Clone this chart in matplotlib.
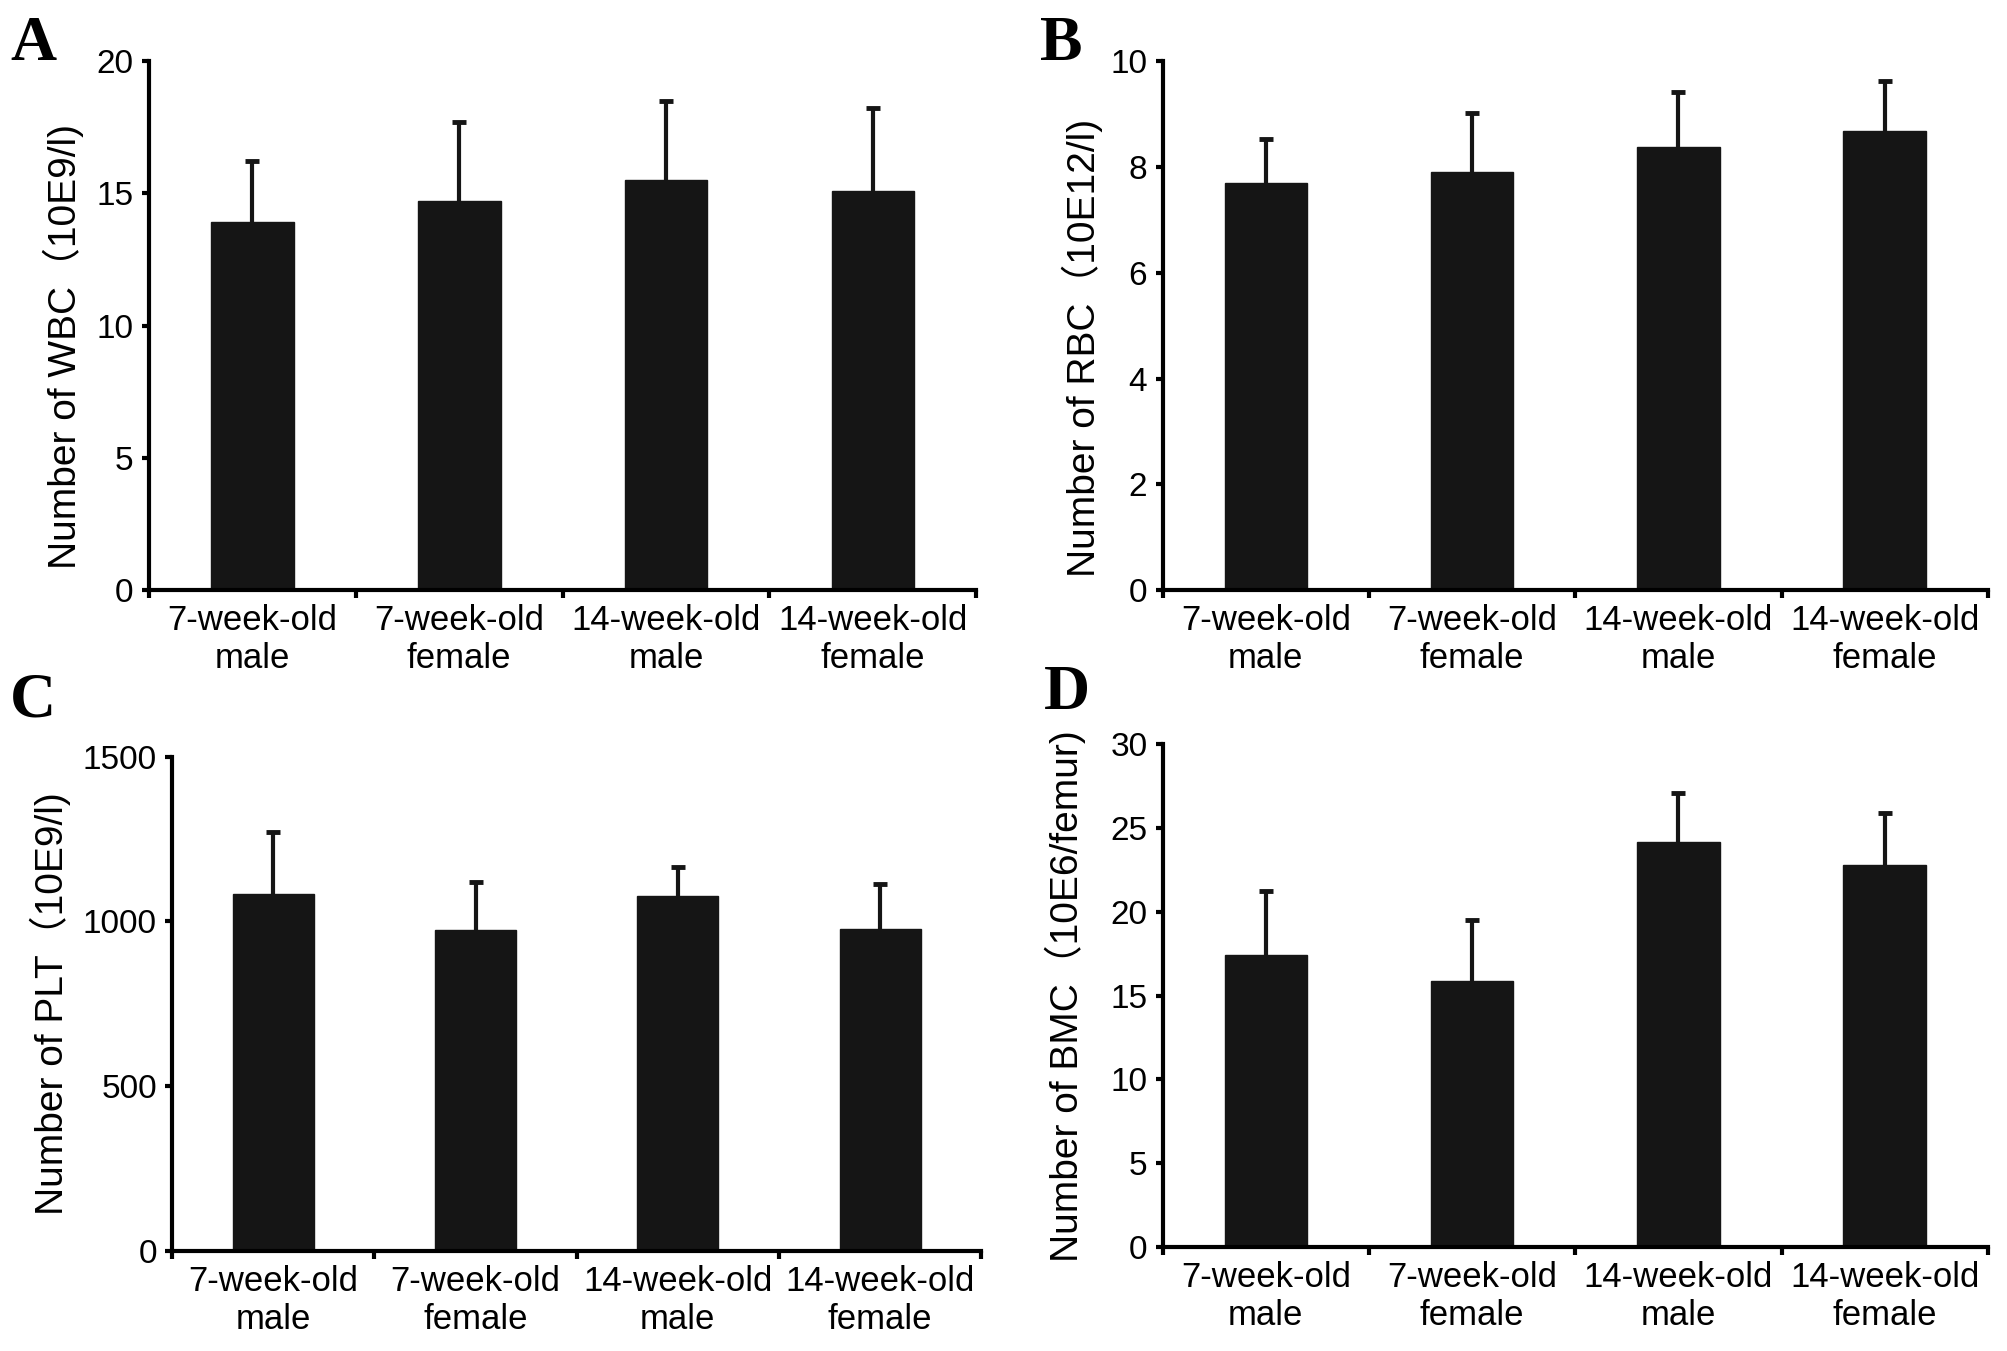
import matplotlib
matplotlib.use("Agg")
import matplotlib.pyplot as plt
import numpy as np

groups = ["7-week-old\nmale", "7-week-old\nfemale", "14-week-old\nmale", "14-week-old\nfemale"]

wbc_mean = [13.9, 14.7, 15.5, 15.1]
wbc_err = [2.3, 3.0, 3.0, 3.1]
rbc_mean = [7.70, 7.90, 8.38, 8.68]
rbc_err = [0.82, 1.11, 1.04, 0.93]
plt_mean = [1082, 973, 1077, 976]
plt_err = [190, 145, 88, 137]
bmc_mean = [17.45, 15.9, 24.15, 22.8]
bmc_err = [3.8, 3.6, 2.95, 3.1]

panels = [
    ("A", wbc_mean, wbc_err, "Number of WBC\uff0810E9/l)", [0, 5, 10, 15, 20]),
    ("B", rbc_mean, rbc_err, "Number of RBC\uff0810E12/l)", [0, 2, 4, 6, 8, 10]),
    ("C", plt_mean, plt_err, "Number of PLT\uff0810E9/l)", [0, 500, 1000, 1500]),
    ("D", bmc_mean, bmc_err, "Number of BMC\uff0810E6/femur)", [0, 5, 10, 15, 20, 25, 30]),
]

# axes boxes in figure fractions [left, bottom, width, height]
boxes = [
    [0.0742, 0.563, 0.412, 0.392],
    [0.579, 0.563, 0.411, 0.392],
    [0.0857, 0.074, 0.403, 0.366],
    [0.579, 0.077, 0.411, 0.372],
]
label_xy = [(-0.078, 0.46), (-0.072, 0.457), (-0.125, 0.50), (-0.093, 0.50)]
letter_xy = [(0.005, 0.988), (0.518, 0.988), (0.005, 0.502), (0.520, 0.508)]

BAR = "#151515"
SANS = ["Liberation Sans", "Noto Sans CJK SC", "DejaVu Sans"]

fig = plt.figure(figsize=(20.08, 13.51), dpi=100)
x = np.arange(len(groups))

for i, (letter, means, errs, ylabel, yticks) in enumerate(panels):
    ax = fig.add_axes(boxes[i])
    # symmetric error bar drawn under the bar, so only the upper half shows
    ax.errorbar(x, means, yerr=errs, fmt="none", ecolor=BAR,
                elinewidth=3, capsize=5, capthick=3.5, zorder=1)
    ax.bar(x, means, width=0.4, color=BAR, edgecolor=BAR, zorder=2)

    ax.set_xlim(-0.5, len(groups) - 0.5)
    ax.set_ylim(0, yticks[-1])
    ax.set_yticks(yticks)
    ax.set_yticklabels([str(t) for t in yticks], family=SANS, fontsize=24)

    # category boundary ticks, labels centred under the bars
    ax.set_xticks(np.arange(-0.5, len(groups)), minor=False)
    ax.set_xticklabels([])
    ax.set_xticks(x, minor=True)
    ax.set_xticklabels(groups, minor=True, family=SANS, fontsize=25, linespacing=1.2)
    ax.tick_params(axis="x", which="minor", length=0, pad=10)
    ax.tick_params(axis="x", which="major", length=6, width=3, direction="out")
    ax.tick_params(axis="y", length=5, width=3, direction="out", pad=6)

    for side in ["top", "right"]:
        ax.spines[side].set_visible(False)
    for side in ["left", "bottom"]:
        ax.spines[side].set_linewidth(3)

    ax.set_ylabel(ylabel, family=SANS, fontsize=28)
    ax.yaxis.set_label_coords(*label_xy[i])

    fig.text(letter_xy[i][0], letter_xy[i][1], letter, family="Liberation Serif",
             fontsize=46, fontweight="bold", ha="left", va="top")

fig.savefig("out.png", dpi=100)
